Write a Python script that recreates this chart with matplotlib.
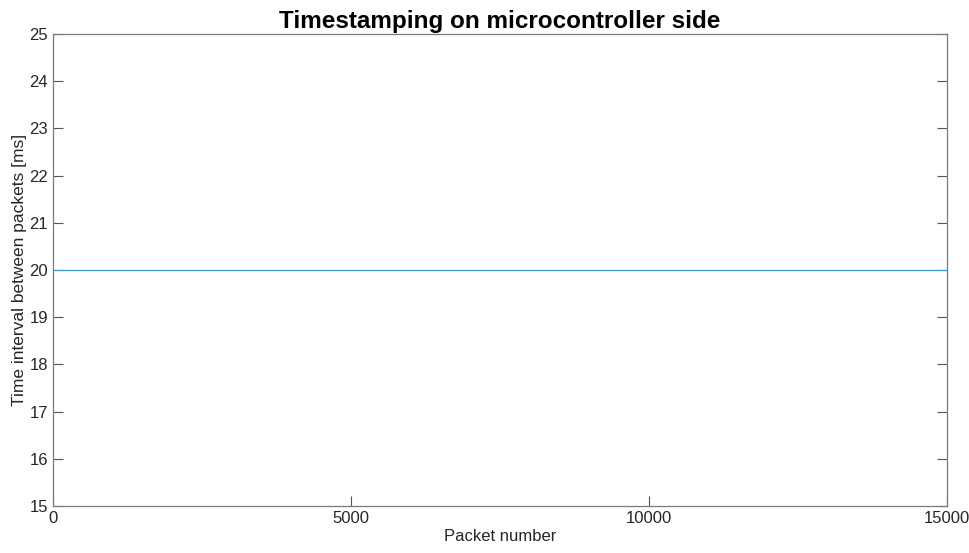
#!/usr/bin/env python3
import matplotlib
matplotlib.use("Agg")
import matplotlib.pyplot as plt

# --- Datos ---
packet_numbers = [1, 15000]
interval_ms = [20, 20]
x_ticks = [0, 5000, 10000, 15000]
y_ticks = [15, 16, 17, 18, 19, 20, 21, 22, 23, 24, 25]

plt.rcParams["font.family"] = ["Liberation Sans", "DejaVu Sans"]

fig = plt.figure(figsize=(9.7, 5.53), dpi=100)
ax = fig.add_axes([0.0546, 0.085, 0.9217, 0.8535])

ax.plot(packet_numbers, interval_ms, color="#3d9cd6", linewidth=0.9)

ax.set_xlim(0, 15000)
ax.set_ylim(15, 25)
ax.set_xticks(x_ticks)
ax.set_yticks(y_ticks)
ax.tick_params(direction="in", length=7, width=0.8, colors="#555555",
               labelcolor="#262626", labelsize=12, top=True, right=True)
ax.tick_params(axis="x", top=False)
for side in ax.spines.values():
    side.set_color("#7a7a7a")
    side.set_linewidth(0.9)

ax.set_xlabel("Packet number", fontsize=12, color="#262626", labelpad=2)
ax.set_ylabel("Time interval between packets [ms]", fontsize=12.5,
              color="#262626", labelpad=2)
ax.set_title("Timestamping on microcontroller side", fontsize=17.5,
             fontweight="bold", pad=4)

plt.savefig("out.png")
